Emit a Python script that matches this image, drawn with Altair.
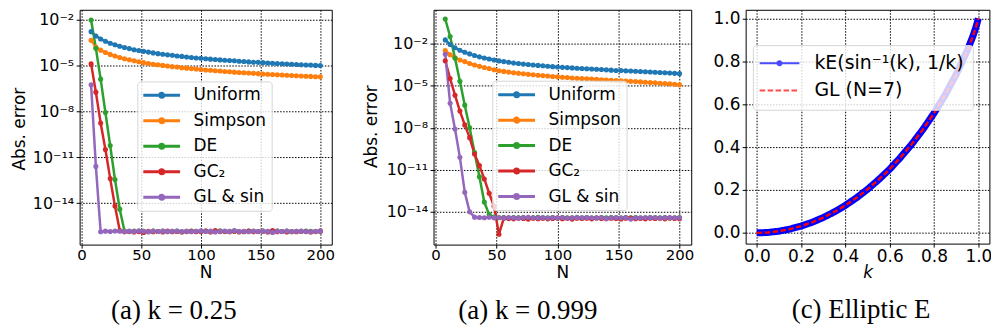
import altair as alt
import pandas as pd

# ---------------- data ----------------
N_VALUES = [8, 12, 16, 20, 24, 28, 32, 36, 40, 44, 48, 52, 56, 60, 64, 68, 72, 76, 80, 84, 88,
            92, 96, 100, 104, 108, 112, 116, 120, 124, 128, 132, 136, 140, 144, 148, 152, 156,
            160, 164, 168, 172, 176, 180, 184, 188, 192, 196, 200]

SERIES = ["Uniform", "Simpson", "DE", "GC₂", "GL & sin"]
COLORS = ["#1f77b4", "#ff7f0e", "#2ca02c", "#d62728", "#9467bd"]

# log10(absolute error), k = 0.25
K025_UNIFORM = [-2.78, -3.06, -3.26, -3.41, -3.54, -3.64, -3.74,
                -3.82, -3.89, -3.96, -4.02, -4.07, -4.12, -4.17,
                -4.22, -4.26, -4.30, -4.33, -4.37, -4.40, -4.44,
                -4.47, -4.50, -4.52, -4.55, -4.58, -4.60, -4.63,
                -4.65, -4.67, -4.69, -4.72, -4.74, -4.76, -4.78,
                -4.79, -4.81, -4.83, -4.85, -4.87, -4.88, -4.90,
                -4.92, -4.93, -4.95, -4.96, -4.97, -4.99, -5.00]
K025_SIMPSON = [-3.35, -3.79, -3.99, -4.14, -4.27, -4.38, -4.47,
                -4.55, -4.62, -4.69, -4.75, -4.81, -4.86, -4.91,
                -4.95, -4.99, -5.03, -5.07, -5.10, -5.14, -5.17,
                -5.20, -5.23, -5.26, -5.29, -5.31, -5.34, -5.36,
                -5.39, -5.41, -5.43, -5.45, -5.47, -5.49, -5.51,
                -5.53, -5.55, -5.57, -5.59, -5.60, -5.62, -5.64,
                -5.65, -5.67, -5.68, -5.70, -5.71, -5.73, -5.74]
K025_DE = [-2.02, -3.87, -5.89, -8.07, -10.24, -12.46, -14.40,
           -15.84, -15.87, -15.83, -15.86, -15.85, -15.88, -15.84,
           -15.86, -15.83, -15.87, -15.85, -15.84, -15.88, -15.86,
           -15.83, -15.85, -15.87, -15.84, -15.86, -15.85, -15.82,
           -15.87, -15.85, -15.84, -15.86, -15.88, -15.83, -15.85,
           -15.86, -15.84, -15.87, -15.85, -15.83, -15.86, -15.84,
           -15.88, -15.85, -15.86, -15.83, -15.85, -15.87, -15.84]
K025_GC2 = [-4.89, -6.74, -8.76, -10.50, -12.40, -14.20, -15.80,
            -15.88, -15.86, -15.90, -15.87, -15.92, -15.85, -15.88,
            -15.86, -15.89, -15.84, -15.88, -15.86, -15.90, -15.87,
            -15.85, -15.88, -15.86, -15.83, -15.89, -15.80, -15.87,
            -15.86, -15.88, -15.85, -15.89, -15.86, -15.84, -15.88,
            -15.87, -15.85, -15.89, -15.80, -15.88, -15.86, -15.90,
            -15.86, -15.88, -15.85, -15.87, -15.89, -15.86, -15.84]
K025_GLSIN = [-6.26, -11.60, -15.88, -15.84, -15.86, -15.83, -15.85,
              -15.87, -15.84, -15.86, -15.82, -15.85, -15.88, -15.83,
              -15.86, -15.84, -15.87, -15.85, -15.83, -15.86, -15.84,
              -15.88, -15.85, -15.82, -15.86, -15.84, -15.90, -15.85,
              -15.83, -15.87, -15.80, -15.86, -15.85, -15.88, -15.83,
              -15.86, -15.84, -15.85, -15.92, -15.84, -15.86, -15.83,
              -15.87, -15.85, -15.84, -15.86, -15.88, -15.85, -15.84]

# log10(absolute error), k = 0.999
K999_UNIFORM = [-1.72, -2.05, -2.28, -2.46, -2.60, -2.72, -2.83,
                -2.93, -3.01, -3.09, -3.16, -3.22, -3.27, -3.32,
                -3.37, -3.41, -3.45, -3.48, -3.51, -3.54, -3.57,
                -3.60, -3.63, -3.65, -3.68, -3.70, -3.72, -3.74,
                -3.76, -3.78, -3.80, -3.82, -3.84, -3.86, -3.88,
                -3.90, -3.91, -3.93, -3.94, -3.96, -3.98, -3.99,
                -4.01, -4.03, -4.05, -4.07, -4.09, -4.11, -4.13]
K999_SIMPSON = [-2.48, -2.78, -3.00, -3.15, -3.27, -3.40, -3.51,
                -3.61, -3.69, -3.77, -3.85, -3.92, -3.97, -4.02,
                -4.06, -4.10, -4.14, -4.18, -4.21, -4.24, -4.27,
                -4.30, -4.33, -4.36, -4.39, -4.41, -4.44, -4.46,
                -4.48, -4.50, -4.52, -4.54, -4.56, -4.58, -4.60,
                -4.62, -4.64, -4.66, -4.68, -4.70, -4.72, -4.74,
                -4.76, -4.78, -4.81, -4.84, -4.86, -4.89, -4.92]
K999_DE = [-0.23, -1.48, -3.02, -4.67, -6.38, -8.00, -9.76,
           -11.50, -13.30, -14.20, -14.38, -14.42, -14.40, -14.44,
           -14.41, -14.43, -14.40, -14.44, -14.42, -14.39, -14.43,
           -14.42, -14.40, -14.44, -14.41, -14.43, -14.42, -14.40,
           -14.43, -14.41, -14.44, -14.42, -14.40, -14.43, -14.41,
           -14.42, -14.44, -14.40, -14.43, -14.41, -14.42, -14.44,
           -14.41, -14.43, -14.42, -14.40, -14.44, -14.42, -14.41]
K999_GC2 = [-3.21, -4.48, -5.67, -6.80, -7.79, -8.70, -9.87,
            -10.70, -11.65, -12.67, -13.60, -15.60, -14.45, -14.47,
            -14.50, -14.44, -14.48, -14.52, -14.45, -14.49, -14.46,
            -14.50, -14.47, -14.44, -14.49, -14.46, -14.52, -14.45,
            -14.48, -14.46, -14.50, -14.44, -14.47, -14.49, -14.45,
            -14.48, -14.51, -14.46, -14.44, -14.49, -14.47, -14.50,
            -14.45, -14.48, -14.46, -14.50, -14.44, -14.47, -14.49]
K999_GLSIN = [-2.74, -6.25, -8.08, -10.11, -12.60, -14.00, -14.38,
              -14.40, -14.42, -14.39, -14.43, -14.41, -14.44, -14.40,
              -14.42, -14.45, -14.41, -14.39, -14.43, -14.42, -14.40,
              -14.44, -14.41, -14.43, -14.40, -14.46, -14.42, -14.41,
              -14.43, -14.40, -14.42, -14.44, -14.41, -14.48, -14.42,
              -14.40, -14.43, -14.41, -14.52, -14.42, -14.44, -14.40,
              -14.43, -14.41, -14.44, -14.42, -14.40, -14.43, -14.42]

Y_TICKS = [-14, -11, -8, -5, -2]
Y_TICK_LABELS = ["10⁻¹⁴", "10⁻¹¹", "10⁻⁸", "10⁻⁵", "10⁻²"]
X_TICKS = [0, 50, 100, 150, 200]

# panel (c)
K_VALUES = [0.0, 0.05, 0.10, 0.15, 0.20, 0.25, 0.30, 0.35, 0.40, 0.45, 0.50, 0.55,
            0.60, 0.65, 0.70, 0.75, 0.80, 0.85, 0.90, 0.95, 0.975, 0.99, 1.0]
ELLIPTIC_VALUES = [0.0, 0.00196, 0.00786, 0.01772, 0.03158, 0.04948, 0.07151, 0.09775,
                   0.12834, 0.1634, 0.2031, 0.2478, 0.2970, 0.3531, 0.4142, 0.4822,
                   0.5579, 0.6427, 0.7386, 0.8503, 0.915, 0.9615, 1.0]
GL7_VALUES = [0.0, 0.00196, 0.00786, 0.01772, 0.03158, 0.04948, 0.07151, 0.09775,
              0.12834, 0.1634, 0.2031, 0.2478, 0.2970, 0.3531, 0.4142, 0.4822,
              0.5579, 0.6427, 0.7386, 0.8503, 0.915, 0.9615, 1.0]
SERIES3 = ["kE(sin⁻¹(k), 1/k)", "GL (N=7)"]
COLORS3 = ["#0000ff", "#ff0000"]
K_TICKS = [0.0, 0.2, 0.4, 0.6, 0.8, 1.0]

for arr in [K025_UNIFORM, K025_SIMPSON, K025_DE, K025_GC2, K025_GLSIN,
            K999_UNIFORM, K999_SIMPSON, K999_DE, K999_GC2, K999_GLSIN]:
    assert len(arr) == len(N_VALUES), len(arr)


def long_frame(series_lists):
    rows = []
    for name, vals in zip(SERIES, series_lists):
        for n, v in zip(N_VALUES, vals):
            rows.append({"N": n, "log_err": v, "method": name})
    return pd.DataFrame(rows)


df1 = long_frame([K025_UNIFORM, K025_SIMPSON, K025_DE, K025_GC2, K025_GLSIN])
df2 = long_frame([K999_UNIFORM, K999_SIMPSON, K999_DE, K999_GC2, K999_GLSIN])

rows3 = []
for k, v in zip(K_VALUES, ELLIPTIC_VALUES):
    rows3.append({"k": k, "val": v, "series": SERIES3[0]})
for k, v in zip(K_VALUES, GL7_VALUES):
    rows3.append({"k": k, "val": v, "series": SERIES3[1]})
df3 = pd.DataFrame(rows3)

Y_LABEL_EXPR = " : ".join(
    f"datum.value == {v} ? '{t}'" for v, t in zip(Y_TICKS, Y_TICK_LABELS)) + " : ''"

FONT = "DejaVu Sans"
SERIF = "Liberation Serif"
LEGEND_FILL = "rgba(255,255,255,0.8)"
LEGEND_STROKE = "#d6d6d6"

# legend symbol: short line with a dot in the middle (unit = sqrt(size)/2 px)
LINE_DOT_PATH = ("M-1.14,0L4.14,0"
                 "M1.21,0a0.29,0.29 0 1,0 0.58,0a0.29,0.29 0 1,0 -0.58,0")
LINE_DOT_PATH3 = ("M-1.64,0L4.06,0"
                  "M0.91,0a0.29,0.29 0 1,0 0.58,0a0.29,0.29 0 1,0 -0.58,0"
                  "M1.06,0a0.14,0.14 0 1,0 0.28,0a0.14,0.14 0 1,0 -0.28,0")
LINE_PATH3 = "M-1.64,0L4.06,0"

X_DOMAIN = [-1.6, 209.6]


def error_panel(frame, width, height, y_domain, legend_x, legend_y, title_x, title_y,
                caption, caption_dx, right_pad_axis):
    base = alt.Chart(frame)
    x_enc = alt.X("N:Q", scale=alt.Scale(domain=X_DOMAIN, nice=False, zero=False),
                  axis=alt.Axis(values=X_TICKS, title="N", labelFontSize=15, titleFontSize=17,
                                titleY=28.5, titleBaseline="middle", labelPadding=-1))
    y_scale = alt.Scale(domain=y_domain, nice=False, zero=False)
    y_enc = alt.Y("log_err:Q", scale=y_scale,
                  axis=alt.Axis(values=Y_TICKS, labelExpr=Y_LABEL_EXPR, labelFontSize=16,
                                labelPadding=2.5, title="Abs. error", titleFontSize=17,
                                titleAngle=-90, titleX=title_x, titleY=title_y,
                                titleAlign="center", titleBaseline="middle"))
    color_scale = alt.Scale(domain=SERIES, range=COLORS)
    lines = base.mark_line(strokeWidth=2.5).encode(
        x=x_enc, y=y_enc,
        color=alt.Color("method:N", scale=color_scale,
                        legend=alt.Legend(orient="none", legendX=legend_x, legendY=legend_y,
                                          title=None, symbolType=LINE_DOT_PATH, symbolSize=196,
                                          symbolStrokeWidth=3, labelFontSize=17, labelFont=FONT,
                                          labelColor="black", rowPadding=7.6, padding=5.5,
                                          labelOffset=34, fillColor=LEGEND_FILL,
                                          strokeColor=LEGEND_STROKE, cornerRadius=3)))
    if right_pad_axis:
        y_pts = alt.Y("log_err:Q", scale=y_scale,
                      axis=alt.Axis(orient="right", labels=False, ticks=False, domain=False,
                                    grid=False, title="|", titleOpacity=0, titleFontSize=17,
                                    titleAngle=-90, titleX=4, titleY=119,
                                    titleAlign="center", titleBaseline="middle"))
    else:
        y_pts = y_enc
    points = base.mark_circle(size=26, opacity=1).encode(
        x=x_enc, y=y_pts,
        color=alt.Color("method:N", scale=color_scale, legend=None))
    layer = alt.layer(lines, points)
    if right_pad_axis:
        layer = layer.resolve_axis(y="independent")
    return layer.properties(
        width=width, height=height,
        title=alt.TitleParams(caption, orient="bottom", anchor="middle", frame="group",
                              dx=caption_dx, offset=17, font=SERIF, fontSize=27,
                              fontWeight="normal", color="black"))


p1 = error_panel(df1, 253.4, 236, [-16.72, -1.35], 58, 72, -60.5, 119.5,
                 "(a) k = 0.25", -32, True)
p2 = error_panel(df2, 259, 236, [-16.34, 0.43], 59, 71.3, -62.7, 117,
                 "(a) k = 0.999", -34.7, False)

# ---------------- panel (c) ----------------
base3 = alt.Chart(df3)
leg3 = alt.Legend(orient="none", legendX=7.3, legendY=35.5, title=None, symbolSize=196,
                  symbolStrokeWidth=2, labelFontSize=19, labelFont=FONT, labelColor="black",
                  rowPadding=7.2, padding=8.8, labelOffset=34, fillColor=LEGEND_FILL,
                  strokeColor=LEGEND_STROKE, cornerRadius=3)
x3 = alt.X("k:Q", scale=alt.Scale(domain=[-0.05, 1.05], nice=False, zero=False),
           axis=alt.Axis(values=K_TICKS, format=".1f", labelFontSize=17, labelPadding=1,
                         title="k", titleFontStyle="italic", titleFontSize=17, titleY=29.5,
                         titleBaseline="middle"))
y3 = alt.Y("val:Q", scale=alt.Scale(domain=[-0.05, 1.04], nice=False, zero=False),
           axis=alt.Axis(values=K_TICKS, format=".1f", labelFontSize=17, labelPadding=2.2,
                         title=None))
color3 = alt.Color("series:N", scale=alt.Scale(domain=SERIES3, range=COLORS3), legend=leg3)
dash3 = alt.StrokeDash("series:N", scale=alt.Scale(domain=SERIES3, range=[[1, 0], [5.5, 2.5]]),
                       legend=leg3)
shape3 = alt.Shape("series:N", scale=alt.Scale(domain=SERIES3,
                                               range=[LINE_DOT_PATH3, LINE_PATH3]),
                   legend=leg3)

blue3 = base3.transform_filter(alt.datum.series == SERIES3[0]).mark_line(
    strokeWidth=7).encode(x=x3, y=y3, color=color3, strokeDash=dash3)
red3 = base3.transform_filter(alt.datum.series == SERIES3[1]).mark_line(
    strokeWidth=2.4).encode(x=x3, y=y3, color=color3, strokeDash=dash3)
legend_shapes = base3.transform_filter("false").mark_point().encode(
    x=x3, y=y3, color=color3, shape=shape3)

p3 = alt.layer(blue3, red3, legend_shapes).properties(
    width=245, height=235,
    title=alt.TitleParams("(c) Elliptic E", orient="bottom", anchor="middle", frame="group",
                          dx=-6.5, offset=16, font=SERIF, fontSize=27, fontWeight="normal",
                          color="black"))

chart = alt.hconcat(p1, p2, p3, spacing=16.7).resolve_scale(
    color="independent", strokeDash="independent", shape="independent"
).resolve_legend(
    color="independent", strokeDash="independent", shape="independent"
).properties(
    padding={"left": 2, "top": -5, "right": -2, "bottom": 0},
    background="white"
).configure_view(
    stroke="black", strokeWidth=1
).configure_axis(
    labelFont=FONT, titleFont=FONT, labelColor="black", titleColor="black",
    titleFontWeight="normal", tickColor="black", tickSize=3.5, tickWidth=1,
    domain=False, grid=True, gridColor="#000000", gridDash=[1.5, 1.5], gridWidth=1,
    gridOpacity=1
)

chart.save("out.html", embed_options={"renderer": "svg", "actions": False})
